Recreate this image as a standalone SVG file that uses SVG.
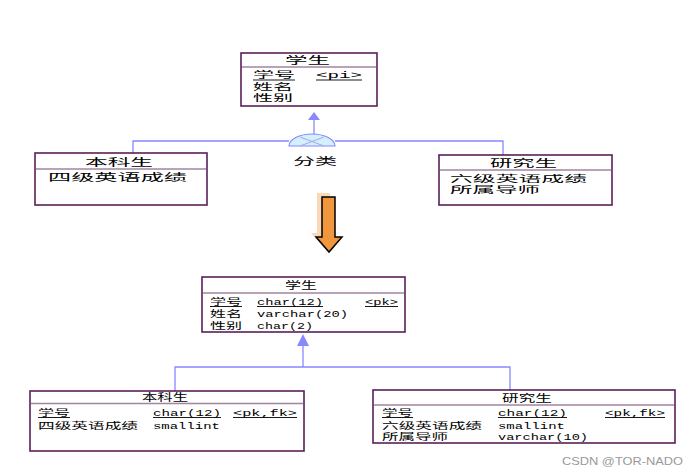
<svg xmlns="http://www.w3.org/2000/svg" width="690" height="475" viewBox="0 0 690 475">
<style>
.box{fill:#ffffff;stroke:#5a1e5a;stroke-width:1.6}
.div{stroke:#a084a0;stroke-width:1.6}
.cn{font-family:"Noto Sans CJK SC","Noto Sans",sans-serif;font-size:9px;fill:#000}
.ttl{font-family:"Noto Sans CJK SC","Noto Sans",sans-serif;font-size:10px;fill:#000}
.mono{font-family:"Liberation Mono",monospace;font-size:9.5px;fill:#000}
.ul{stroke:#000;stroke-width:0.9}
.con{fill:none;stroke:#8888ff;stroke-width:1.3}
.ah{fill:#8888ff;stroke:none}
</style>
<rect width="690" height="475" fill="#ffffff"/>

<g id="connectors">
  <polygon class="ah" points="314,112 308,120 320,120"/>
  <line class="con" x1="314" y1="120" x2="314" y2="135"/>
  <polyline class="con" points="133,153 133,141 289,141"/>
  <polyline class="con" points="335,141 503,141 503,155"/>
  <g id="classify">
    <path d="M289,146 A23,12 0 0 1 335,146 Z" fill="#d4f0ff" stroke="#8888ff" stroke-width="1.2"/>
    <line x1="300" y1="137" x2="324" y2="146" stroke="#a0a8e0" stroke-width="1"/>
    <line x1="324" y1="137" x2="300" y2="146" stroke="#a0a8e0" stroke-width="1"/>
  </g>
  <polygon class="ah" points="303,334 297,346 309,346"/>
  <line class="con" x1="303" y1="346" x2="303" y2="367"/>
  <polyline class="con" points="175,391 175,367 510,367 510,390"/>
</g>

<g id="label-classify">
  <text class="ttl" x="293" y="165" textLength="44" lengthAdjust="spacingAndGlyphs">分类</text>
</g>

<g id="entity-student-top">
  <rect class="box" x="241" y="53" width="136" height="53"/>
  <line class="div" x1="242" y1="67" x2="376" y2="67"/>
  <text class="ttl" x="285" y="63.5" textLength="45" lengthAdjust="spacingAndGlyphs">学生</text>
  <text class="cn" x="253" y="78" textLength="42" lengthAdjust="spacingAndGlyphs">学号</text>
  <line class="ul" x1="253" y1="80" x2="295" y2="80"/>
  <text class="mono" x="316" y="78" textLength="46" lengthAdjust="spacingAndGlyphs">&lt;pi&gt;</text>
  <line class="ul" x1="316" y1="80" x2="362" y2="80"/>
  <text class="cn" x="253" y="89.5" textLength="40" lengthAdjust="spacingAndGlyphs">姓名</text>
  <text class="cn" x="253" y="101" textLength="40" lengthAdjust="spacingAndGlyphs">性别</text>
</g>

<g id="entity-undergrad-top">
  <rect class="box" x="35" y="153" width="172" height="52"/>
  <line class="div" x1="36" y1="169" x2="206" y2="169"/>
  <text class="ttl" x="85" y="166" textLength="68" lengthAdjust="spacingAndGlyphs">本科生</text>
  <text class="ttl" x="48" y="181" textLength="139" lengthAdjust="spacingAndGlyphs">四级英语成绩</text>
</g>

<g id="entity-grad-top">
  <rect class="box" x="439" y="155" width="173" height="50"/>
  <line class="div" x1="440" y1="170" x2="611" y2="170"/>
  <text class="ttl" x="490" y="167" textLength="67" lengthAdjust="spacingAndGlyphs">研究生</text>
  <text class="cn" x="450" y="181.5" textLength="137" lengthAdjust="spacingAndGlyphs">六级英语成绩</text>
  <text class="cn" x="450" y="193" textLength="90" lengthAdjust="spacingAndGlyphs">所属导师</text>
</g>

<g id="transform-arrow">
  <polygon points="317,193 330,193 330,233 337,233 324,248 311,233 317,233" fill="#f7cfa6" opacity="0.8"/>
  <polygon points="322,197 335,197 335,237 342,237 329,252 316,237 322,237" fill="#f0963c" stroke="#000" stroke-width="1.5" stroke-linejoin="miter"/>
</g>

<g id="table-student">
  <rect class="box" x="202" y="277" width="203" height="55"/>
  <line class="div" x1="203" y1="293" x2="404" y2="293"/>
  <text class="ttl" x="285" y="289" textLength="32" lengthAdjust="spacingAndGlyphs">学生</text>
  <text class="cn" x="210" y="305" textLength="32" lengthAdjust="spacingAndGlyphs">学号</text>
  <line class="ul" x1="210" y1="306.5" x2="242" y2="306.5"/>
  <text class="mono" x="257" y="305" textLength="66" lengthAdjust="spacingAndGlyphs">char(12)</text>
  <line class="ul" x1="257" y1="306.5" x2="323" y2="306.5"/>
  <text class="mono" x="365" y="305" textLength="33" lengthAdjust="spacingAndGlyphs">&lt;pk&gt;</text>
  <line class="ul" x1="365" y1="306.5" x2="398" y2="306.5"/>
  <text class="cn" x="210" y="317" textLength="32" lengthAdjust="spacingAndGlyphs">姓名</text>
  <text class="mono" x="257" y="317" textLength="91" lengthAdjust="spacingAndGlyphs">varchar(20)</text>
  <text class="cn" x="210" y="328.5" textLength="32" lengthAdjust="spacingAndGlyphs">性别</text>
  <text class="mono" x="257" y="328.5" textLength="56" lengthAdjust="spacingAndGlyphs">char(2)</text>
</g>

<g id="table-undergrad">
  <rect class="box" x="30" y="391" width="274" height="60"/>
  <line class="div" x1="31" y1="403.5" x2="303" y2="403.5"/>
  <text class="ttl" x="142" y="401" textLength="46" lengthAdjust="spacingAndGlyphs">本科生</text>
  <text class="cn" x="38" y="416" textLength="32" lengthAdjust="spacingAndGlyphs">学号</text>
  <line class="ul" x1="38" y1="417.5" x2="70" y2="417.5"/>
  <text class="mono" x="153" y="416" textLength="68" lengthAdjust="spacingAndGlyphs">char(12)</text>
  <line class="ul" x1="153" y1="417.5" x2="221" y2="417.5"/>
  <text class="mono" x="233" y="416" textLength="64" lengthAdjust="spacingAndGlyphs">&lt;pk,fk&gt;</text>
  <line class="ul" x1="233" y1="417.5" x2="297" y2="417.5"/>
  <text class="cn" x="38" y="428.5" textLength="100" lengthAdjust="spacingAndGlyphs">四级英语成绩</text>
  <text class="mono" x="153" y="428.5" textLength="67" lengthAdjust="spacingAndGlyphs">smallint</text>
</g>

<g id="table-grad">
  <rect class="box" x="373" y="390" width="302" height="53"/>
  <line class="div" x1="374" y1="405" x2="674" y2="405"/>
  <text class="ttl" x="502" y="402" textLength="50" lengthAdjust="spacingAndGlyphs">研究生</text>
  <text class="cn" x="382" y="416" textLength="31" lengthAdjust="spacingAndGlyphs">学号</text>
  <line class="ul" x1="382" y1="417.5" x2="413" y2="417.5"/>
  <text class="mono" x="498" y="416" textLength="69" lengthAdjust="spacingAndGlyphs">char(12)</text>
  <line class="ul" x1="498" y1="417.5" x2="567" y2="417.5"/>
  <text class="mono" x="605" y="416" textLength="60" lengthAdjust="spacingAndGlyphs">&lt;pk,fk&gt;</text>
  <line class="ul" x1="605" y1="417.5" x2="665" y2="417.5"/>
  <text class="cn" x="382" y="428.5" textLength="100" lengthAdjust="spacingAndGlyphs">六级英语成绩</text>
  <text class="mono" x="498" y="428.5" textLength="67" lengthAdjust="spacingAndGlyphs">smallint</text>
  <text class="cn" x="382" y="440" textLength="66" lengthAdjust="spacingAndGlyphs">所属导师</text>
  <text class="mono" x="498" y="440" textLength="90" lengthAdjust="spacingAndGlyphs">varchar(10)</text>
</g>

<text x="562" y="465" font-family="Liberation Sans,Arial,sans-serif" font-size="11.5" fill="#9a9a9a" textLength="121" lengthAdjust="spacingAndGlyphs">CSDN @TOR-NADO</text>
</svg>
